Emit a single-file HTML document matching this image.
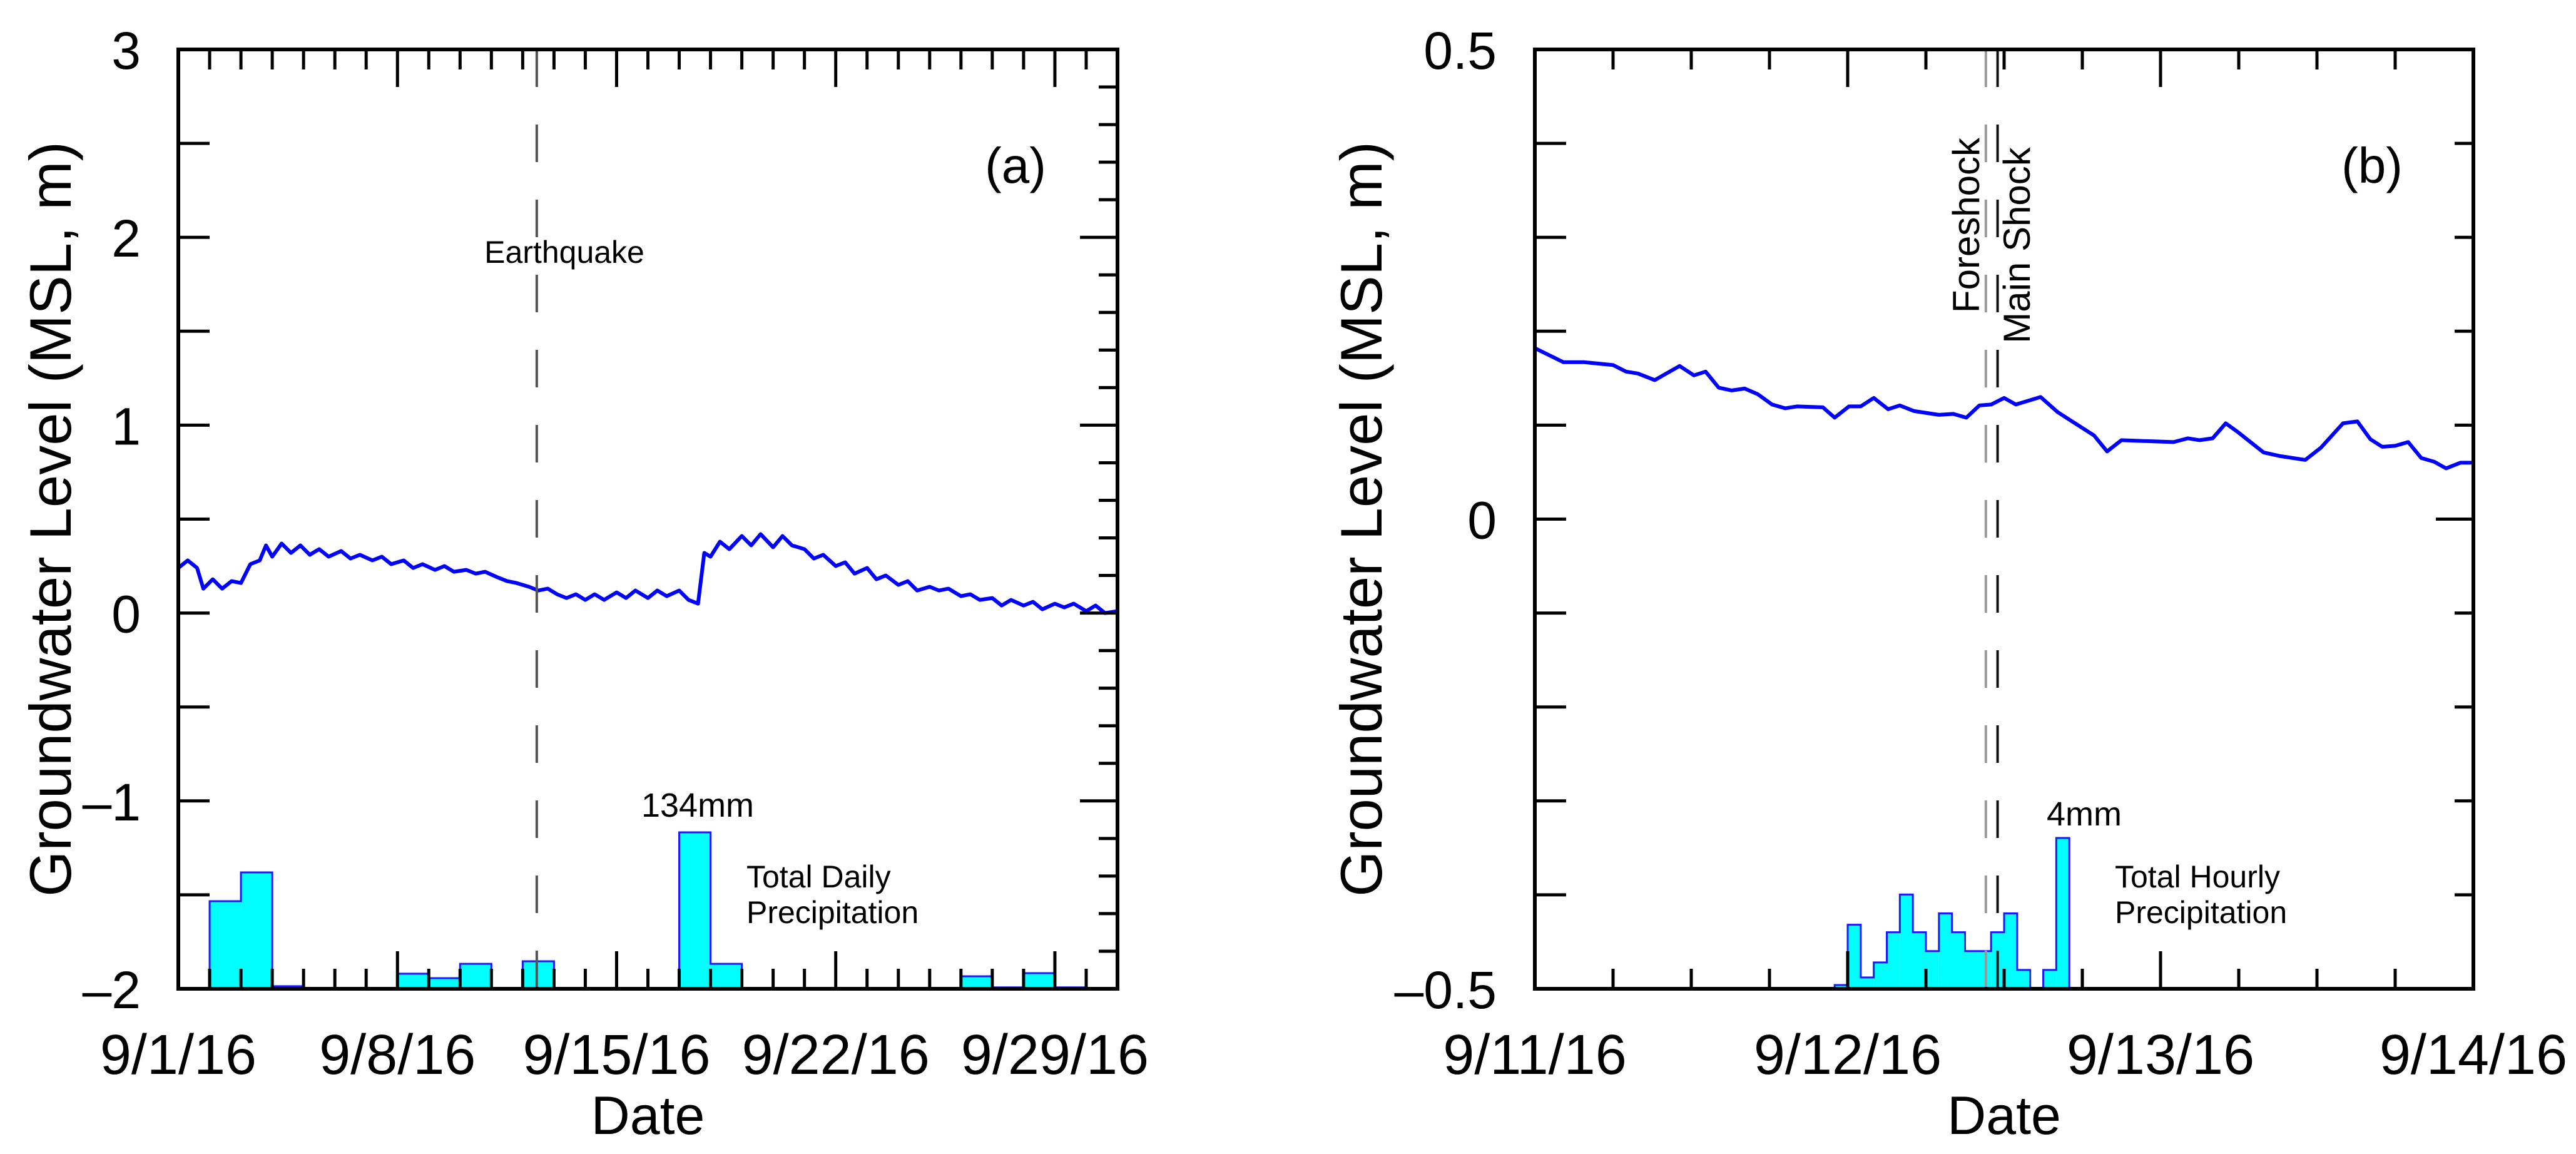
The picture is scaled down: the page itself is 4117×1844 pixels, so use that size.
<!DOCTYPE html>
<html><head><meta charset="utf-8">
<style>
html,body{margin:0;padding:0;background:#fff;}
svg{display:block;font-family:"Liberation Sans",Arial,sans-serif;}
</style></head>
<body>
<svg id="fig" xmlns="http://www.w3.org/2000/svg" width="4117" height="1844" viewBox="0 0 4117 1844">
<rect width="4117" height="1844" fill="#fff"/>
<g id="pa"></g>
<g id="pb"></g>
</svg>
<script>
// ---------- Panel (a) data ----------
const aXTickLabels = ["9/1/16","9/8/16","9/15/16","9/22/16","9/29/16"];
const aXTickDays = [0,7,14,21,28];
const aYTickLabels = ["3","2","1","0","\u20131","\u20132"];
const aYTickVals = [3,2,1,0,-1,-2];
const aRainDays = [1,2,3,4,7,8,9,11,16,17,25,26,27,28];
const aRainMm = [75,99.7,2.2,0.6,12.9,9.1,21.4,23.6,134,21.4,10.7,1.2,13.4,1.2];
const aGwDays = [0,0.3,0.6,0.8,1.1,1.4,1.7,2.0,2.3,2.6,2.8,3.0,3.3,3.6,3.9,4.2,4.5,4.8,5.2,5.5,5.8,6.2,6.5,6.8,7.2,7.5,7.8,8.2,8.5,8.8,9.2,9.5,9.8,10.2,10.5,10.8,11.2,11.5,11.8,12.1,12.4,12.7,13.0,13.3,13.6,14.0,14.3,14.6,15.0,15.3,15.6,16.0,16.3,16.6,16.8,17.0,17.3,17.6,18.0,18.3,18.6,19.0,19.3,19.6,20.0,20.3,20.6,21.0,21.3,21.6,22.0,22.3,22.6,23.0,23.3,23.6,24.0,24.3,24.6,25.0,25.3,25.6,26.0,26.3,26.6,27.0,27.3,27.6,28.0,28.3,28.6,29.0,29.3,29.6,30.0];
const aGwVals = [0.24,0.28,0.24,0.13,0.18,0.13,0.17,0.16,0.26,0.28,0.36,0.30,0.37,0.32,0.36,0.31,0.34,0.30,0.33,0.29,0.31,0.28,0.30,0.26,0.28,0.24,0.26,0.23,0.25,0.22,0.23,0.21,0.22,0.19,0.17,0.16,0.14,0.12,0.13,0.10,0.08,0.10,0.07,0.10,0.07,0.11,0.08,0.12,0.08,0.12,0.09,0.12,0.07,0.05,0.32,0.30,0.38,0.34,0.41,0.36,0.42,0.35,0.41,0.36,0.34,0.29,0.31,0.25,0.27,0.21,0.24,0.18,0.20,0.15,0.17,0.12,0.14,0.12,0.13,0.09,0.10,0.07,0.08,0.04,0.07,0.04,0.06,0.02,0.05,0.03,0.05,0.01,0.04,0.00,0.01];
const aQuakeDay = 11.45;

// ---------- Panel (b) data ----------
const bXTickLabels = ["9/11/16","9/12/16","9/13/16","9/14/16"];
const bXTickHours = [0,24,48,72];
const bYTickLabels = ["0.5","0","\u20130.5"];
const bYTickVals = [0.5,0,-0.5];
const bRainHours = [23,24,25,26,27,28,29,30,31,32,33,34,35,36,37,39,40];
const bRainMm = [0.1,1.7,0.3,0.7,1.5,2.5,1.5,1.0,2.0,1.5,1.0,1.0,1.5,2.0,0.5,0.5,4.0];
const bGwHours = [0,2.2,3.8,6.0,7.0,7.9,9.2,11.1,12.2,13.1,14.1,15.1,16.1,17.1,18.2,19.2,20.1,22.1,23.0,24.1,25.0,26.0,27.1,28.0,29.1,31.0,32.1,33.1,34.1,35.0,36.0,36.9,38.8,40.1,42.9,43.9,45.0,49.0,50.1,51.0,52.0,53.0,53.9,55.9,57.2,59.1,60.3,62.0,63.1,64.1,65.0,66.0,67.0,68.0,69.0,69.9,71.0,72.0];
const bGwVals = [0.182,0.167,0.167,0.164,0.157,0.155,0.148,0.163,0.153,0.157,0.140,0.137,0.139,0.133,0.122,0.118,0.120,0.119,0.108,0.120,0.120,0.129,0.117,0.121,0.115,0.111,0.112,0.108,0.121,0.122,0.129,0.122,0.130,0.114,0.089,0.072,0.084,0.082,0.086,0.084,0.086,0.102,0.093,0.071,0.067,0.063,0.076,0.102,0.104,0.085,0.077,0.078,0.082,0.065,0.061,0.054,0.060,0.060];
const bForeshockHour = 34.6;
const bMainShockHour = 35.5;

const NS = "http://www.w3.org/2000/svg";
function mk(parent, tag, attrs, name){
  const el = document.createElementNS(NS, tag);
  for (const k in attrs) el.setAttribute(k, attrs[k]);
  
  
  parent.appendChild(el);
  return el;
}
function txt(parent, x, y, s, size, anchor, name, extra){
  const t = mk(parent, 'text', Object.assign({x:x, y:y, 'font-size':size, 'text-anchor':anchor, fill:'#000'}, extra||{}), name);
  t.textContent = s;
  return t;
}

function drawPanel(g, cfg){
  const L=cfg.L, R=cfg.R, T=cfg.T, B=cfg.B;
  const sx = v => L + (v - cfg.x0)/(cfg.x1 - cfg.x0)*(R-L);
  const sy = v => B - (v - cfg.y0)/(cfg.y1 - cfg.y0)*(B-T);
  const bars = mk(g,'g',{},'precipitation-bars');
  cfg.rainX.forEach((d,i)=>{
    const h = cfg.rain[i]*cfg.mmPx;
    mk(bars,'rect',{x:sx(d), y:B-h, width:sx(d+1)-sx(d), height:h, fill:'#00ffff'}, 'precip-bar');
  });
  let path = '';
  let prevEnd = null;
  cfg.rainX.forEach((d,i)=>{
    const h = cfg.rain[i]*cfg.mmPx;
    const x0 = sx(d), x1 = sx(d+1);
    if (prevEnd !== null && Math.abs(prevEnd - d) < 1e-9){
      path += ` L${x0},${B-h} L${x1},${B-h}`;
    } else {
      if (prevEnd !== null) path += ` L${sx(prevEnd)},${B}`;
      path += ` M${x0},${B} L${x0},${B-h} L${x1},${B-h}`;
    }
    prevEnd = d+1;
  });
  if (prevEnd !== null) path += ` L${sx(prevEnd)},${B}`;
  mk(bars,'path',{d:path, fill:'none', stroke:'#1a1aff', 'stroke-width':3}, 'precip-outline');
  let pts = cfg.gwX.map((d,i)=>sx(d).toFixed(1)+','+sy(cfg.gw[i]).toFixed(1)).join(' ');
  mk(g,'polyline',{points:pts, fill:'none', stroke:'#0000ff', 'stroke-width':6, 'stroke-linejoin':'round'}, 'groundwater-line');
  cfg.events.forEach(ev=>{
    const x = sx(ev.x);
    mk(g,'line',{x1:x,y1:T,x2:x,y2:B, stroke:ev.color, 'stroke-width':4, 'stroke-dasharray':'60 60'}, ev.name);
  });
  const tk = mk(g,'g',{stroke:'#000','stroke-width':5},'axis-ticks');
  for (let v=cfg.x0; v<=cfg.x1+1e-9; v+=cfg.xMinor){
    const major = Math.abs(((v - cfg.x0) / cfg.xMajor) - Math.round((v - cfg.x0)/cfg.xMajor)) < 1e-6;
    const len = major ? 60 : 32;
    const x = sx(v);
    mk(tk,'line',{x1:x,y1:B,x2:x,y2:B-len},'x-tick-bottom');
    mk(tk,'line',{x1:x,y1:T,x2:x,y2:T+len},'x-tick-top');
  }
  for (let v=cfg.y0; v<=cfg.y1+1e-9; v+=cfg.yLeftStep){
    const y = sy(v);
    mk(tk,'line',{x1:L,y1:y,x2:L+50,y2:y},'y-tick-left');
  }
  for (let v=cfg.y0; v<=cfg.y1+1e-9; v+=cfg.yRightStep){
    const major = Math.abs(v/cfg.yMajor - Math.round(v/cfg.yMajor)) < 1e-6;
    const y = sy(v);
    mk(tk,'line',{x1:R,y1:y,x2:R-(major?60:30),y2:y},'y-tick-right');
  }
  mk(g,'rect',{x:L,y:T,width:R-L,height:B-T,fill:'none',stroke:'#000','stroke-width':6},'plot-frame');
  cfg.xTickVals.forEach((v,i)=> txt(g, sx(v), 1716, cfg.xTickLabels[i], 90, 'middle', 'x-tick-label'));
  cfg.yTickVals.forEach((v,i)=> txt(g, cfg.yLabelRight, sy(v)+31, cfg.yTickLabels[i], 84, 'end', 'y-tick-label'));
  txt(g, (L+R)/2, 1812, 'Date', 86, 'middle', 'x-axis-title');
  const cx = cfg.yTitleX, cy=(T+B)/2;
  txt(g, cx, cy, 'Groundwater Level (MSL, m)', 94, 'middle', 'y-axis-title', {transform:`rotate(-90 ${cx} ${cy})`, dy:33});
  return {sx, sy};
}

const pa = document.getElementById('pa');
drawPanel(pa, {L:285,R:1786,T:79,B:1580,x0:0,x1:30,y0:-2,y1:3,
  rainX:aRainDays, rain:aRainMm, mmPx:1.866, gwX:aGwDays, gw:aGwVals,
  events:[{x:aQuakeDay,color:'#555',name:'earthquake-line'}],
  xMinor:1, xMajor:7, yLeftStep:0.5, yRightStep:0.2, yMajor:1,
  xTickVals:aXTickDays, xTickLabels:aXTickLabels, yTickVals:aYTickVals, yTickLabels:aYTickLabels,
  yLabelRight:225, yTitleX:80});
txt(pa, 1623, 292, '(a)', 80, 'middle', 'panel-label-a');
txt(pa, 902, 420, 'Earthquake', 50, 'middle', 'earthquake-label');
txt(pa, 1115, 1305, '134mm', 54, 'middle', 'max-rain-label');
txt(pa, 1193, 1418, 'Total Daily', 50, 'start', 'precip-label-1');
txt(pa, 1193, 1475, 'Precipitation', 50, 'start', 'precip-label-2');

const pb = document.getElementById('pb');
drawPanel(pb, {L:2453,R:3953,T:79,B:1580,x0:0,x1:72,y0:-0.5,y1:0.5,
  rainX:bRainHours, rain:bRainMm, mmPx:60.25, gwX:bGwHours, gw:bGwVals,
  events:[{x:bForeshockHour,color:'#999',name:'foreshock-line'},{x:bMainShockHour,color:'#111',name:'mainshock-line'}],
  xMinor:6, xMajor:24, yLeftStep:0.1, yRightStep:0.1, yMajor:0.5,
  xTickVals:bXTickHours, xTickLabels:bXTickLabels, yTickVals:bYTickVals, yTickLabels:bYTickLabels,
  yLabelRight:2392, yTitleX:2175});
txt(pb, 3791, 292, '(b)', 80, 'middle', 'panel-label-b');
txt(pb, 3331, 1319, '4mm', 54, 'middle', 'max-rain-label');
txt(pb, 3380, 1418, 'Total Hourly', 50, 'start', 'precip-label-1');
txt(pb, 3380, 1475, 'Precipitation', 50, 'start', 'precip-label-2');
txt(pb, 3142, 360, 'Foreshock', 60, 'middle', 'foreshock-label', {transform:'rotate(-90 3142 360)', dy:21});
txt(pb, 3223, 392, 'Main Shock', 60, 'middle', 'mainshock-label', {transform:'rotate(-90 3223 392)', dy:21});
</script>
</body></html>
